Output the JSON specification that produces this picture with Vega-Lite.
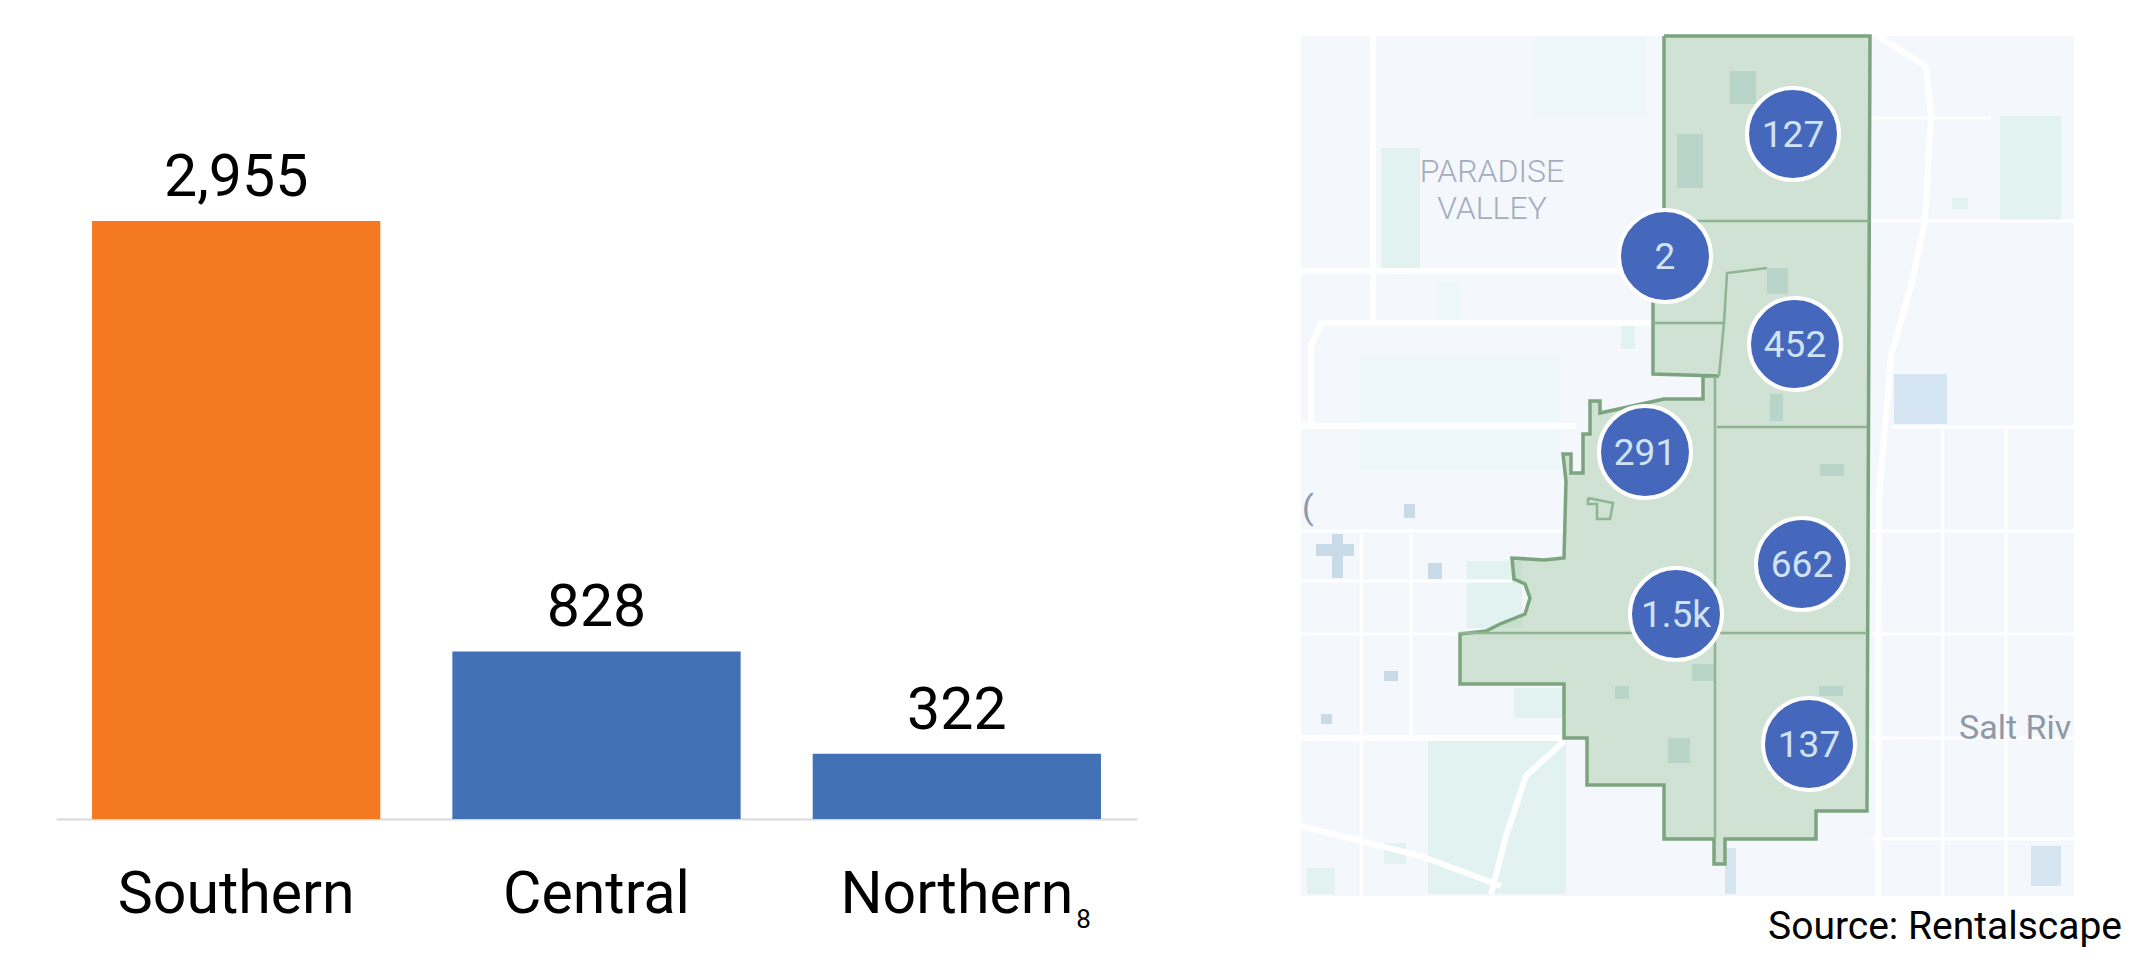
{
"$schema":"https://vega.github.io/schema/vega-lite/v6.json",
"padding":{"left":56,"top":24,"right":0,"bottom":0},
"autosize":{"type":"pad"},
"background":"white",
"config":{"view":{"stroke":null},"font":"Roboto"},
"spacing":152,
"resolve":{"scale":{"color":"independent","x":"independent","y":"independent"}},
"datasets":{
"bars":[{"region":"Southern","listings":2955},{"region":"Central","listings":828},{"region":"Northern","listings":322}],
"boundary":[{"i":0,"u":363,"v":0},{"i":1,"u":569,"v":0},{"i":2,"u":566,"v":775},{"i":3,"u":515,"v":775},{"i":4,"u":515,"v":803},{"i":5,"u":424,"v":803},{"i":6,"u":424,"v":828},{"i":7,"u":413,"v":828},{"i":8,"u":413,"v":803},{"i":9,"u":363,"v":803},{"i":10,"u":363,"v":749},{"i":11,"u":286,"v":749},{"i":12,"u":286,"v":702},{"i":13,"u":263,"v":702},{"i":14,"u":263,"v":648},{"i":15,"u":159,"v":648},{"i":16,"u":159,"v":598},{"i":17,"u":185,"v":595},{"i":18,"u":199,"v":588},{"i":19,"u":224,"v":578},{"i":20,"u":229,"v":562},{"i":21,"u":224,"v":548},{"i":22,"u":213,"v":543},{"i":23,"u":211,"v":522},{"i":24,"u":243,"v":524},{"i":25,"u":263,"v":522},{"i":26,"u":265,"v":445},{"i":27,"u":262,"v":418},{"i":28,"u":270,"v":418},{"i":29,"u":270,"v":437},{"i":30,"u":282,"v":437},{"i":31,"u":282,"v":398},{"i":32,"u":289,"v":398},{"i":33,"u":289,"v":365},{"i":34,"u":299,"v":365},{"i":35,"u":299,"v":377},{"i":36,"u":363,"v":363},{"i":37,"u":402,"v":363},{"i":38,"u":402,"v":340},{"i":39,"u":418,"v":340},{"i":40,"u":352,"v":338},{"i":41,"u":352,"v":268},{"i":42,"u":363,"v":185},{"i":43,"u":363,"v":0}],
"districts":[
{"d":"a","i":0,"u":363,"v":185},{"d":"a","i":1,"u":568,"v":185},
{"d":"b","i":0,"u":416,"v":391},{"d":"b","i":1,"u":566,"v":391},
{"d":"c","i":0,"u":159,"v":597},{"d":"c","i":1,"u":566,"v":597},
{"d":"d","i":0,"u":414,"v":340},{"d":"d","i":1,"u":414,"v":803},
{"d":"e","i":0,"u":352,"v":287},{"d":"e","i":1,"u":423,"v":287},{"d":"e","i":2,"u":426,"v":237},{"d":"e","i":3,"u":466,"v":232},
{"d":"f","i":0,"u":418,"v":340},{"d":"f","i":1,"u":423,"v":287},
{"d":"g","i":0,"u":287,"v":462},{"d":"g","i":1,"u":312,"v":467},{"d":"g","i":2,"u":309,"v":483},{"d":"g","i":3,"u":296,"v":483},{"d":"g","i":4,"u":296,"v":468},{"d":"g","i":5,"u":287,"v":468},{"d":"g","i":6,"u":287,"v":462}
],
"patches":[
{"kind":"land","u":0,"u2":773,"v":0,"v2":860},
{"kind":"park","u":80,"u2":119,"v":112,"v2":232},
{"kind":"park","u":699,"u2":760,"v":80,"v2":185},
{"kind":"water","u":593,"u2":646,"v":338,"v2":388},
{"kind":"park","u":320,"u2":334,"v":290,"v2":313},
{"kind":"pale","u":59,"u2":259,"v":318,"v2":435},
{"kind":"pale","u":138,"u2":159,"v":245,"v2":287},
{"kind":"pale","u":233,"u2":344,"v":0,"v2":82},
{"kind":"grey","u":15,"u2":53,"v":508,"v2":520},
{"kind":"grey","u":31,"u2":42,"v":498,"v2":542},
{"kind":"park","u":166,"u2":221,"v":525,"v2":592},
{"kind":"park","u":213,"u2":262,"v":652,"v2":682},
{"kind":"park","u":127,"u2":265,"v":705,"v2":858},
{"kind":"grey","u":391,"u2":413,"v":628,"v2":645},
{"kind":"grey","u":367,"u2":389,"v":702,"v2":727},
{"kind":"grey","u":314,"u2":328,"v":650,"v2":663},
{"kind":"grey","u":518,"u2":542,"v":650,"v2":660},
{"kind":"grey","u":519,"u2":543,"v":428,"v2":440},
{"kind":"grey","u":466,"u2":487,"v":232,"v2":258},
{"kind":"grey","u":469,"u2":482,"v":358,"v2":385},
{"kind":"grey","u":376,"u2":402,"v":98,"v2":152},
{"kind":"grey","u":429,"u2":455,"v":35,"v2":68},
{"kind":"water","u":730,"u2":760,"v":810,"v2":850},
{"kind":"water","u":424,"u2":435,"v":812,"v2":858},
{"kind":"grey","u":83,"u2":97,"v":635,"v2":645},
{"kind":"grey","u":103,"u2":114,"v":468,"v2":482},
{"kind":"grey","u":127,"u2":141,"v":527,"v2":543},
{"kind":"grey","u":20,"u2":31,"v":678,"v2":688},
{"kind":"park","u":83,"u2":105,"v":807,"v2":828},
{"kind":"park","u":6,"u2":34,"v":832,"v2":858},
{"kind":"park","u":651,"u2":667,"v":162,"v2":173}
],
"roads":[
{"r":"east","cls":"major","i":0,"u":577,"v":0},{"r":"east","cls":"major","i":1,"u":625,"v":30},{"r":"east","cls":"major","i":2,"u":630,"v":80},{"r":"east","cls":"major","i":3,"u":624,"v":185},{"r":"east","cls":"major","i":4,"u":610,"v":250},{"r":"east","cls":"major","i":5,"u":590,"v":320},{"r":"east","cls":"major","i":6,"u":578,"v":460},{"r":"east","cls":"major","i":7,"u":577,"v":860},
{"r":"west","cls":"major","i":0,"u":72,"v":0},{"r":"west","cls":"major","i":1,"u":72,"v":287},{"r":"west","cls":"major","i":2,"u":20,"v":287},{"r":"west","cls":"major","i":3,"u":10,"v":310},{"r":"west","cls":"major","i":4,"u":10,"v":390},
{"r":"h1","cls":"major","i":0,"u":0,"v":235},{"r":"h1","cls":"major","i":1,"u":355,"v":235},
{"r":"h2","cls":"major","i":0,"u":72,"v":287},{"r":"h2","cls":"major","i":1,"u":350,"v":287},
{"r":"h3","cls":"major","i":0,"u":0,"v":390},{"r":"h3","cls":"major","i":1,"u":275,"v":390},
{"r":"h4","cls":"minor","i":0,"u":590,"v":391},{"r":"h4","cls":"minor","i":1,"u":773,"v":391},
{"r":"h5","cls":"minor","i":0,"u":570,"v":185},{"r":"h5","cls":"minor","i":1,"u":773,"v":185},
{"r":"h6","cls":"minor","i":0,"u":570,"v":82},{"r":"h6","cls":"minor","i":1,"u":690,"v":82},
{"r":"h7","cls":"minor","i":0,"u":0,"v":495},{"r":"h7","cls":"minor","i":1,"u":263,"v":495},
{"r":"h8","cls":"minor","i":0,"u":570,"v":495},{"r":"h8","cls":"minor","i":1,"u":773,"v":495},
{"r":"h9","cls":"minor","i":0,"u":0,"v":545},{"r":"h9","cls":"minor","i":1,"u":211,"v":545},
{"r":"h10","cls":"minor","i":0,"u":0,"v":598},{"r":"h10","cls":"minor","i":1,"u":159,"v":598},
{"r":"h11","cls":"minor","i":0,"u":570,"v":598},{"r":"h11","cls":"minor","i":1,"u":773,"v":598},
{"r":"h12","cls":"major","i":0,"u":0,"v":702},{"r":"h12","cls":"major","i":1,"u":263,"v":702},
{"r":"h13","cls":"minor","i":0,"u":570,"v":702},{"r":"h13","cls":"minor","i":1,"u":773,"v":702},
{"r":"h14","cls":"minor","i":0,"u":570,"v":803},{"r":"h14","cls":"minor","i":1,"u":773,"v":803},
{"r":"h15","cls":"major","i":0,"u":0,"v":790},{"r":"h15","cls":"major","i":1,"u":120,"v":820},{"r":"h15","cls":"major","i":2,"u":200,"v":850},
{"r":"river","cls":"major","i":0,"u":263,"v":705},{"r":"river","cls":"major","i":1,"u":225,"v":740},{"r":"river","cls":"major","i":2,"u":205,"v":800},{"r":"river","cls":"major","i":3,"u":190,"v":858},
{"r":"v1","cls":"minor","i":0,"u":642,"v":391},{"r":"v1","cls":"minor","i":1,"u":642,"v":860},
{"r":"v2","cls":"minor","i":0,"u":705,"v":391},{"r":"v2","cls":"minor","i":1,"u":705,"v":860},
{"r":"v3","cls":"minor","i":0,"u":60,"v":498},{"r":"v3","cls":"minor","i":1,"u":60,"v":860},
{"r":"v4","cls":"minor","i":0,"u":110,"v":498},{"r":"v4","cls":"minor","i":1,"u":110,"v":700}
],
"clusters":[
{"label":"127","u":492,"v":98},{"label":"2","u":364,"v":220},{"label":"452","u":494,"v":308},{"label":"291","u":344,"v":416},{"label":"662","u":501,"v":528},{"label":"1.5k","u":375,"v":578},{"label":"137","u":508,"v":708}
]
},
"hconcat":[
{
"width":1081,"height":783,
"data":{"name":"bars"},
"encoding":{
"x":{"field":"region","type":"nominal","sort":null,"scale":{"paddingInner":0.2,"paddingOuter":0.1},
"axis":{"title":"8","titleFontSize":26,"titleFontWeight":"normal","titleColor":"#000000","titleX":1027,"titleY":108,"titleBaseline":"alphabetic","titleFont":"Roboto","labelAngle":0,"labelFontSize":59,"labelLimit":0,"labelColor":"#000000","labelPadding":46,"labelFont":"Roboto","ticks":false,"domainColor":"#d9d9d9","domainWidth":2,"grid":false}},
"y":{"field":"listings","type":"quantitative","scale":{"domain":[0,3869],"nice":false},"axis":null}
},
"layer":[
{"mark":{"type":"bar"},"encoding":{"color":{"field":"region","type":"nominal","sort":null,"scale":{"domain":["Southern","Central","Northern"],"range":["#f47920","#4371b6","#4371b6"]},"legend":null}}},
{"mark":{"type":"text","fontSize":59,"font":"Roboto","baseline":"alphabetic","dy":-25,"color":"#000000"},"encoding":{"text":{"field":"listings","type":"quantitative","format":","}}}
]
},
{
"width":841,"height":932,
"layer":[
{"data":{"name":"patches"},"mark":{"type":"rect","clip":true},"encoding":{
"x":{"field":"u","type":"quantitative","scale":{"domain":[0,841],"nice":false,"zero":false},"axis":null},
"x2":{"field":"u2"},
"y":{"field":"v","type":"quantitative","scale":{"domain":[932,0],"nice":false,"zero":false},"axis":null},
"y2":{"field":"v2"},
"color":{"field":"kind","type":"nominal","scale":{"domain":["land","park","pale","water","grey"],"range":["#f4f7fc","#e2f2f0","#eef7f9","#d5e5f1","#c9dbe6"]},"legend":null}
}},
{"data":{"name":"roads"},"transform":[{"filter":"datum.cls === 'major'"}],"mark":{"type":"line","color":"#ffffff","strokeWidth":6},"encoding":{"x":{"field":"u","type":"quantitative"},"y":{"field":"v","type":"quantitative"},"detail":{"field":"r"},"order":{"field":"i"}}},
{"data":{"name":"roads"},"transform":[{"filter":"datum.cls === 'minor'"}],"mark":{"type":"line","color":"#ffffff","strokeWidth":3},"encoding":{"x":{"field":"u","type":"quantitative"},"y":{"field":"v","type":"quantitative"},"detail":{"field":"r"},"order":{"field":"i"}}},
{"data":{"name":"boundary"},"mark":{"type":"line","fill":"#a9cda9","fillOpacity":0.5,"stroke":"#7ca57f","strokeWidth":3.5,"strokeJoin":"miter"},"encoding":{"x":{"field":"u","type":"quantitative"},"y":{"field":"v","type":"quantitative"},"order":{"field":"i"}}},
{"data":{"name":"districts"},"mark":{"type":"line","color":"#8fb593","strokeWidth":2.5},"encoding":{"x":{"field":"u","type":"quantitative"},"y":{"field":"v","type":"quantitative"},"detail":{"field":"d"},"order":{"field":"i"}}},
{"data":{"name":"clusters"},"mark":{"type":"point","shape":"circle","filled":true,"size":8464,"fill":"#4668bc","fillOpacity":1,"stroke":"#ffffff","strokeWidth":4,"strokeOpacity":1},"encoding":{"x":{"field":"u","type":"quantitative"},"y":{"field":"v","type":"quantitative"}}},
{"data":{"name":"clusters"},"mark":{"type":"text","fontSize":37,"font":"Roboto","dy":2,"color":"#cfe3f2"},"encoding":{"x":{"field":"u","type":"quantitative"},"y":{"field":"v","type":"quantitative"},"text":{"field":"label"}}},
{"data":{"values":[{"t":"PARADISE","u":191,"v":136},{"t":"VALLEY","u":191,"v":173}]},"mark":{"type":"text","fontSize":32,"font":"Roboto","fontWeight":300,"color":"#a4adbd"},"encoding":{"x":{"field":"u","type":"quantitative"},"y":{"field":"v","type":"quantitative"},"text":{"field":"t"}}},
{"data":{"values":[{"t":"Salt Riv","u":658,"v":693},{"t":"(","u":1,"v":473}]},"mark":{"type":"text","fontSize":34,"font":"Roboto","align":"left","color":"#8f98a8"},"encoding":{"x":{"field":"u","type":"quantitative"},"y":{"field":"v","type":"quantitative"},"text":{"field":"t"}}},
{"data":{"values":[{"t":"Source: Rentalscape","u":821,"v":891}]},"mark":{"type":"text","fontSize":39,"font":"Roboto","align":"right","color":"#000000"},"encoding":{"x":{"field":"u","type":"quantitative"},"y":{"field":"v","type":"quantitative"},"text":{"field":"t"}}}
]
}
]
}
